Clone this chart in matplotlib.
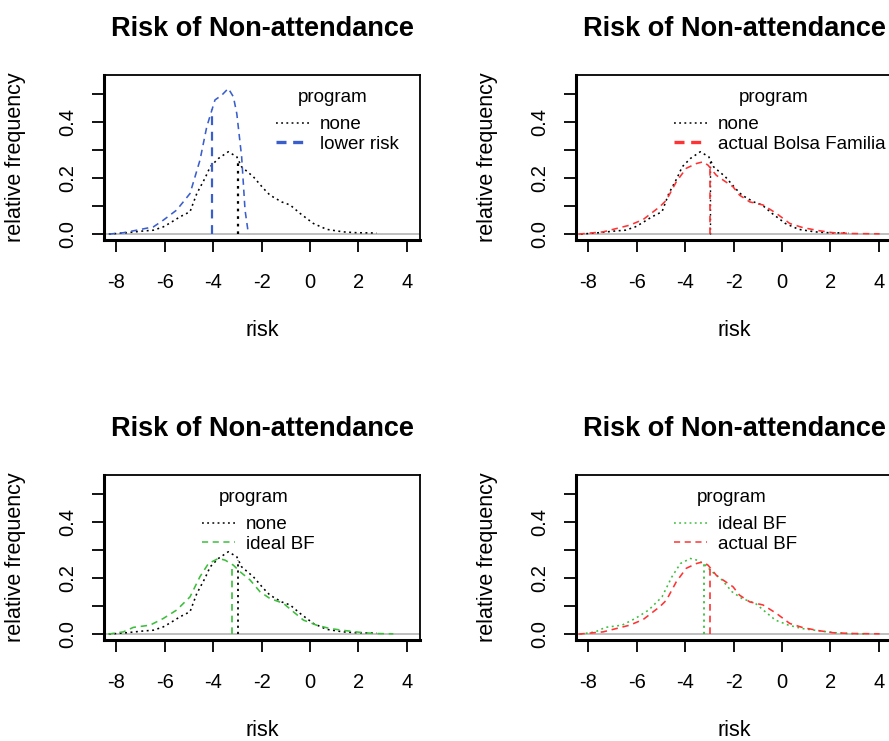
import numpy as np
import matplotlib.pyplot as plt
from matplotlib.lines import Line2D

plt.rcParams['font.family'] = ['Liberation Sans', 'DejaVu Sans']

# frequency polygons of predicted risk under each programme scenario
risk_none = [-8.3, -7.56, -6.9, -6.46, -6.05, -5.77, -5.36, -4.95, -4.67, -4.33, -4.12,
             -3.78, -3.37, -3.02, -2.82, -2.34, -1.92, -1.65, -1.17, -0.82, -0.41,
             0.14, 0.69, 1.37, 1.92, 2.75]
freq_none = [0.0, 0.005, 0.011, 0.014, 0.026, 0.04, 0.062, 0.08, 0.145, 0.2, 0.24,
             0.27, 0.294, 0.276, 0.24, 0.205, 0.163, 0.139, 0.115, 0.104, 0.074,
             0.038, 0.017, 0.008, 0.005, 0.004]

risk_lower = [-8.3, -7.7, -7.15, -6.46, -6.05, -5.5, -4.95, -4.54, -4.26, -3.92, -3.64,
              -3.37, -3.16, -3.02, -2.82, -2.68, -2.54]
freq_lower = [0.0, 0.005, 0.014, 0.026, 0.05, 0.086, 0.145, 0.264, 0.383, 0.479, 0.496,
              0.52, 0.49, 0.43, 0.276, 0.086, 0.0]

risk_actual = [-8.4, -7.38, -6.83, -6.28, -5.73, -5.04, -4.77, -4.36, -3.95, -3.53, -3.26,
               -3.05, -2.71, -2.43, -2.02, -1.75, -1.33, -0.78, -0.23, 0.32, 0.87, 1.55,
               2.1, 2.93, 4.03]
freq_actual = [0.0, 0.008, 0.02, 0.032, 0.052, 0.098, 0.121, 0.187, 0.235, 0.252, 0.258,
               0.246, 0.21, 0.193, 0.169, 0.139, 0.115, 0.104, 0.074, 0.038, 0.023, 0.012,
               0.005, 0.002, 0.001]

risk_ideal = [-8.32, -7.7, -7.29, -6.6, -6.05, -5.5, -4.95, -4.54, -4.19, -3.78, -3.5,
              -3.16, -2.89, -2.47, -2.06, -1.65, -1.1, -0.69, -0.27, 0.27, 0.82, 1.51,
              2.2, 2.75, 3.44]
freq_ideal = [0.0, 0.008, 0.024, 0.032, 0.056, 0.086, 0.133, 0.205, 0.252, 0.27, 0.264,
              0.246, 0.223, 0.193, 0.151, 0.127, 0.11, 0.08, 0.05, 0.032, 0.02, 0.012,
              0.005, 0.002, 0.001]

# mean risk for each scenario
mean_none = -2.96
mean_lower = -4.04
mean_actual = -2.97
mean_ideal = -3.21

xticks = [-8, -6, -4, -2, 0, 2, 4]
yticks = [0.0, 0.1, 0.2, 0.3, 0.4, 0.5]
ytick_labels = ['0.0', '', '0.2', '', '0.4', '']

BLUE = '#3a5fcd'
RED = '#ff3333'
GREEN = '#3cbf3c'
DOT = (0, (1.2, 2.2))
DASH = (0, (4, 3))

fig = plt.figure(figsize=(8.89, 7.41), dpi=100)

W, H = 889, 741


def panel(left, top):
    ax = fig.add_axes([left / W, (H - top - 165) / H, 316 / W, 165 / H])
    ax.set_xlim(-8.5, 4.54)
    ax.set_ylim(-0.021, 0.568)
    ax.axhline(0, color='#b4b4b4', lw=1.2, zorder=1)
    ax.set_xticks(xticks)
    ax.set_xticklabels([str(t) for t in xticks])
    ax.set_yticks(yticks)
    ax.set_yticklabels(ytick_labels, rotation=90, va='center')
    ax.tick_params(direction='out', length=8.6, width=1.3, labelsize=14.5, pad=11)
    ax.tick_params(axis='x', pad=15)
    for s in ['top', 'right']:
        ax.spines[s].set_linewidth(1.3)
    for s in ['left', 'bottom']:
        ax.spines[s].set_linewidth(2.2)
    ax.text(0.5, 1.28, 'Risk of Non-attendance', transform=ax.transAxes,
            ha='center', va='center', fontsize=19.5, fontweight='bold')
    ax.set_xlabel('risk', fontsize=15.5)
    ax.xaxis.set_label_coords(0.5, -0.485)
    ax.set_ylabel('relative frequency', fontsize=15.5)
    ax.yaxis.set_label_coords(-0.247, 0.5)
    return ax


def curve(ax, x, y, mean, color, ls, vlw=1.0):
    ax.plot(x, y, color=color, ls=ls, lw=1.15, zorder=3)
    ax.vlines(mean, 0, np.interp(mean, x, y), color=color, ls=ls, lw=vlw, zorder=3)


def legend(ax, x0, xt, labels, styles):
    handles = [Line2D([], [], color=c, ls=ls, lw=lw) for c, ls, lw in styles]
    ax.legend(handles, labels, loc='upper left', bbox_to_anchor=(x0, 0.75),
              frameon=False, fontsize=13.5, handlelength=1.75, handletextpad=0.6,
              labelspacing=0.12, borderpad=0, borderaxespad=0)
    ax.text(xt, 0.864, 'program', transform=ax.transAxes, ha='center',
            va='center', fontsize=13.5)


# none vs lower risk
ax = panel(104, 75)
curve(ax, risk_none, freq_none, mean_none, 'black', DOT, 1.6)
curve(ax, risk_lower, freq_lower, mean_lower, BLUE, DASH, 1.6)
legend(ax, 0.545, 0.725, ['none', 'lower risk'],
       [('black', DOT, 1.1), (BLUE, (0, (3, 2)), 2.4)])

# none vs actual Bolsa Familia
ax = panel(576, 75)
curve(ax, risk_none, freq_none, mean_none, 'black', DOT)
curve(ax, risk_actual, freq_actual, mean_actual, RED, DASH, 1.2)
legend(ax, 0.31, 0.627, ['none', 'actual Bolsa Familia'],
       [('black', DOT, 1.1), (RED, (0, (3, 2)), 2.4)])

# none vs ideal BF
ax = panel(104, 475)
curve(ax, risk_none, freq_none, mean_none, 'black', DOT, 1.3)
curve(ax, risk_ideal, freq_ideal, mean_ideal, GREEN, DASH, 1.2)
legend(ax, 0.31, 0.475, ['none', 'ideal BF'],
       [('black', DOT, 1.1), (GREEN, DASH, 1.1)])

# ideal BF vs actual BF
ax = panel(576, 475)
curve(ax, risk_ideal, freq_ideal, mean_ideal, GREEN, DOT, 1.3)
curve(ax, risk_actual, freq_actual, mean_actual, RED, DASH, 1.2)
legend(ax, 0.31, 0.494, ['ideal BF', 'actual BF'],
       [(GREEN, DOT, 1.1), (RED, DASH, 1.1)])

fig.savefig('out.png', dpi=100)
